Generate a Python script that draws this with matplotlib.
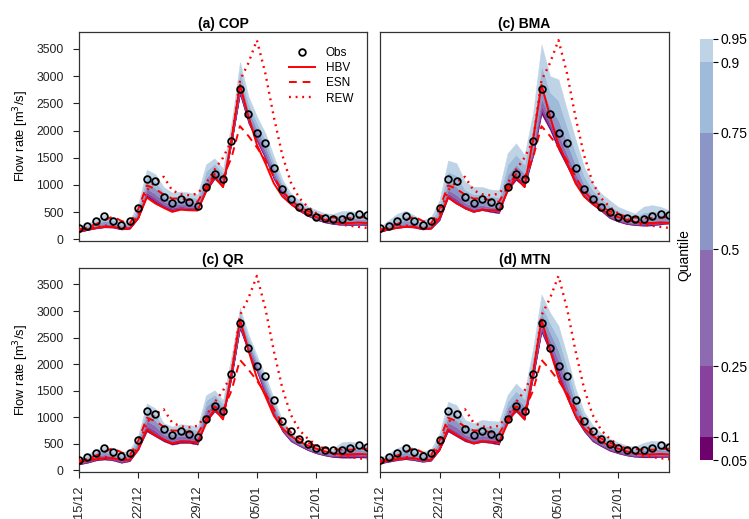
import matplotlib
matplotlib.use("Agg")
import matplotlib.pyplot as plt
from matplotlib.lines import Line2D

plt.rcParams['font.family'] = ['Liberation Sans', 'DejaVu Sans']

# ---------------- data ----------------
DAYS = list(range(35))                      # daily steps starting 15/12
XTICK_POS = [0, 7, 14, 21, 28]
XTICK_LABELS = ["15/12", "22/12", "29/12", "05/01", "12/01"]
YTICKS = [0, 500, 1000, 1500, 2000, 2500, 3000, 3500]

OBS = [200, 250, 330, 430, 340, 270, 330, 580, 1110, 1070, 780, 660, 745, 690, 620, 970, 1210, 1110,
       1810, 2770, 2300, 1960, 1770, 1320, 925, 740, 600, 500, 420, 390, 380, 380, 430, 470, 440]
HBV = [150, 185, 210, 230, 230, 195, 200, 390, 770, 660, 580, 505, 545, 535, 530, 880, 1150, 960,
       1830, 2840, 2260, 1740, 1400, 1030, 790, 650, 540, 470, 410, 360, 320, 300, 300, 310, 300]
ESN = [180, 220, 280, 350, 420, 340, 290, 560, 990, 930, 820, 750, 750, 720, 690, 960, 1200, 1130,
       1500, 2080, 1900, 1690, 1450, 1150, 890, 720, 600, 520, 460, 420, 400, 390, 390, 400, 410]
REW = [170, 200, 230, 250, 250, 220, 240, 450, 900, 1060, 1150, 900, 830, 810, 840, 1030, 1280, 1500,
       1810, 2920, 3240, 3660, 3050, 2250, 1550, 1050, 760, 600, 480, 380, 310, 270, 250, 230, 210]

QUANTILES = [0.05, 0.1, 0.25, 0.5, 0.75, 0.9, 0.95]
QUANTILE_LABELS = ["0.05", "0.1", "0.25", "0.5", "0.75", "0.9", "0.95"]
BAND_COLORS = ['#6e016b', '#88419d', '#8c6bb1', '#8c96c6', '#9ebcda', '#bfd3e6']

COP_Q05 = [135,170,200,220,215,180,195,390,790,680,590,530,560,545,540,880,1110,960,1750,2660,2130,1800,1480,1100,830,640,520,430,360,310,280,265,260,265,260]
COP_Q10 = [140,175,210,235,225,190,205,405,820,710,610,550,580,565,555,910,1135,980,1775,2695,2160,1830,1510,1125,845,655,530,440,370,320,290,280,275,280,275]
COP_Q25 = [150,190,225,255,245,200,220,430,865,760,645,580,610,590,585,955,1165,1010,1810,2750,2205,1870,1550,1165,870,670,550,455,385,335,310,305,300,300,290]
COP_Q50 = [165,205,250,290,270,220,245,470,935,835,700,630,655,640,625,1030,1225,1060,1870,2840,2280,1940,1620,1230,910,705,580,485,415,360,335,340,340,335,325]
COP_Q75 = [190,230,285,340,310,250,280,525,1035,940,775,695,720,700,685,1130,1300,1130,1950,2960,2380,2030,1715,1315,965,745,620,520,450,395,375,390,390,380,365]
COP_Q90 = [215,260,330,400,355,285,320,590,1160,1070,870,780,800,780,760,1255,1395,1215,2050,3110,2505,2145,1830,1420,1030,795,670,565,495,435,420,455,455,440,415]
COP_Q95 = [240,290,370,460,400,320,360,660,1280,1200,960,860,880,860,830,1380,1490,1300,2150,3260,2630,2260,1950,1530,1100,850,720,610,540,480,470,520,520,500,470]

BMA_Q05 = [135,178,210,225,215,180,195,350,760,655,560,505,535,505,480,900,1090,960,1520,2300,2010,1640,1335,1030,780,640,520,390,325,280,260,250,255,275,290]
BMA_Q10 = [140,187,223,240,227,189,206,369,795,692,585,528,557,526,501,934,1124,990,1560,2364,2060,1705,1387,1071,808,660,536,407,339,293,271,268,274,291,302]
BMA_Q25 = [146,199,241,262,243,200,221,394,843,744,620,560,587,554,531,982,1171,1031,1616,2454,2129,1796,1460,1127,847,687,559,430,358,311,286,292,300,314,319]
BMA_Q50 = [156,216,267,292,266,217,242,431,912,819,670,606,630,595,574,1050,1239,1090,1696,2582,2228,1926,1565,1208,902,726,592,463,386,336,307,327,338,347,344]
BMA_Q75 = [175,250,319,353,312,251,285,505,1050,968,770,698,716,677,659,1186,1374,1208,1856,2838,2426,2186,1774,1370,1013,804,657,529,441,387,350,397,413,412,393]
BMA_Q90 = [202,298,392,439,376,299,346,609,1243,1177,910,827,836,792,778,1376,1563,1373,2080,3196,2703,2550,2067,1597,1169,913,748,621,518,459,411,495,518,503,462]
BMA_Q95 = [230,350,470,530,445,350,410,720,1450,1400,1060,965,965,915,905,1580,1765,1550,2320,3580,3000,2940,2380,1840,1335,1030,845,720,600,535,475,600,630,600,535]

QR_Q05 = [112,143,187,205,187,143,174,392,733,640,547,485,516,516,485,920,1106,982,1728,2660,2225,1852,1417,1044,733,547,460,380,320,280,250,240,240,245,240]
QR_Q10 = [120,155,203,225,203,158,191,414,775,682,574,512,544,543,512,960,1138,1009,1763,2692,2252,1877,1447,1069,750,562,470,390,330,290,262,263,264,267,257]
QR_Q25 = [133,174,228,255,228,180,218,448,839,746,615,553,587,584,553,1019,1187,1050,1815,2741,2293,1914,1492,1106,777,584,484,404,346,304,281,298,301,299,283]
QR_Q50 = [152,202,265,300,265,214,257,498,934,841,677,615,651,646,615,1109,1260,1112,1893,2814,2355,1970,1559,1162,816,618,506,426,369,326,309,350,356,348,322]
QR_Q75 = [173,233,306,349,306,251,300,554,1040,947,745,683,721,714,683,1208,1340,1180,1980,2895,2423,2032,1633,1224,859,655,530,450,395,350,340,408,417,402,365]
QR_Q90 = [197,267,351,404,351,293,348,615,1156,1063,821,759,799,790,759,1318,1429,1256,2076,2984,2499,2101,1715,1293,907,696,556,476,424,376,374,472,484,461,412]
QR_Q95 = [218,298,392,454,392,330,392,671,1262,1169,889,827,870,858,827,1417,1510,1324,2163,3065,2567,2163,1790,1355,951,733,580,500,450,400,405,530,545,515,455]

MTN_Q05 = [130,160,190,210,190,160,180,380,733,640,547,503,535,516,485,951,1106,951,1728,2598,2225,1790,1355,982,733,547,454,370,320,280,255,245,245,250,250]
MTN_Q10 = [137,170,204,226,204,171,193,399,767,675,571,526,560,541,511,979,1138,983,1762,2641,2270,1846,1403,1016,755,566,469,384,333,291,267,262,264,267,265]
MTN_Q25 = [147,184,225,251,225,189,213,428,817,729,608,561,597,578,550,1021,1185,1030,1812,2705,2337,1930,1476,1066,789,594,491,405,352,309,284,286,292,294,288]
MTN_Q50 = [163,208,259,291,259,217,246,476,901,817,668,619,660,641,616,1091,1265,1110,1896,2813,2449,2070,1597,1150,845,640,528,439,383,337,314,328,340,337,325]
MTN_Q75 = [185,240,305,345,305,255,290,540,1013,936,749,696,743,724,703,1184,1371,1216,2008,2956,2598,2257,1759,1262,920,703,578,485,425,375,353,383,403,395,375]
MTN_Q90 = [211,278,360,410,360,301,343,617,1147,1077,846,789,843,824,807,1296,1497,1342,2142,3127,2777,2480,1953,1396,1009,777,638,540,475,421,399,449,478,465,435]
MTN_Q95 = [240,320,420,480,420,350,400,700,1293,1231,951,889,951,932,920,1417,1635,1480,2287,3313,2971,2723,2163,1542,1106,858,702,600,530,470,450,520,560,540,500]

PANELS = [
    ("(a) COP", [COP_Q05, COP_Q10, COP_Q25, COP_Q50, COP_Q75, COP_Q90, COP_Q95]),
    ("(c) BMA", [BMA_Q05, BMA_Q10, BMA_Q25, BMA_Q50, BMA_Q75, BMA_Q90, BMA_Q95]),
    ("(c) QR", [QR_Q05, QR_Q10, QR_Q25, QR_Q50, QR_Q75, QR_Q90, QR_Q95]),
    ("(d) MTN", [MTN_Q05, MTN_Q10, MTN_Q25, MTN_Q50, MTN_Q75, MTN_Q90, MTN_Q95]),
]

# ---------------- layout ----------------
W, H = 749, 519
def pos(x0, y0, x1, y1):
    return [x0 / W, 1 - y1 / H, (x1 - x0) / W, (y1 - y0) / H]

AX_BOXES = [(79, 32, 367, 241), (380, 32, 669, 241), (79, 268, 367, 472), (380, 268, 669, 472)]

DASH = (0, (4, 3))
DOT = (0, (0.8, 2.0))

fig = plt.figure(figsize=(7.49, 5.19), dpi=100)

for i, ((title, qs), box) in enumerate(zip(PANELS, AX_BOXES)):
    ax = fig.add_axes(pos(*box))
    for k in range(len(qs) - 1):
        ax.fill_between(DAYS, qs[k], qs[k + 1], facecolor=BAND_COLORS[k],
                        edgecolor=BAND_COLORS[k], linewidth=0.3, zorder=1)
    ax.plot(DAYS, HBV, color='#ff0000', lw=1.4, ls='-', zorder=3)
    ax.plot(DAYS, ESN, color='#ff0000', lw=1.4, ls=DASH, zorder=3)
    ax.plot(DAYS, REW, color='#ff0000', lw=1.7, ls=DOT, zorder=3)
    ax.plot(DAYS, OBS, ls='none', marker='o', ms=4.8, mfc='none', mec='black', mew=1.3, zorder=4)
    ax.set_xlim(0, 34)
    ax.set_ylim(-30, 3810)
    for s in ax.spines.values():
        s.set_color('#333333')
        s.set_linewidth(0.9)
    ax.set_title(title, fontsize=10, fontweight='bold', pad=3)
    if i in (0, 2):
        ax.set_yticks(YTICKS)
        ax.set_yticklabels([str(v) for v in YTICKS], fontsize=8.8)
        ax.tick_params(axis='y', length=4, width=0.8, pad=7, colors='#222222')
        ax.set_ylabel("Flow rate [m$^3$/s]", fontsize=9.3, labelpad=4)
    else:
        ax.set_yticks([])
    if i in (2, 3):
        ax.set_xticks(XTICK_POS)
        ax.set_xticklabels(XTICK_LABELS, rotation=90, fontsize=9.3, va='top')
        ax.tick_params(axis='x', length=4.5, width=0.8, pad=5, colors='#222222')
    else:
        ax.set_xticks([])
    if i == 0:
        handles = [
            Line2D([], [], ls='none', marker='o', ms=4.8, mfc='none', mec='black', mew=1.3),
            Line2D([], [], color='#ff0000', lw=1.4, ls='-'),
            Line2D([], [], color='#ff0000', lw=1.4, ls=DASH),
            Line2D([], [], color='#ff0000', lw=1.7, ls=DOT),
        ]
        ax.legend(handles, ['Obs', 'HBV', 'ESN', 'REW'], loc='upper right',
                  bbox_to_anchor=(0.985, 0.975), frameon=False, fontsize=8.5,
                  handlelength=2.2, handletextpad=0.9, labelspacing=0.28,
                  borderaxespad=0.4)

# ---------------- colour key ----------------
cax = fig.add_axes(pos(700, 39, 713, 460))
for k in range(len(QUANTILES) - 1):
    cax.axhspan(QUANTILES[k], QUANTILES[k + 1], color=BAND_COLORS[k], lw=0)
cax.set_ylim(QUANTILES[0], QUANTILES[-1])
cax.set_xlim(0, 1)
cax.set_xticks([])
cax.yaxis.tick_right()
cax.set_yticks(QUANTILES)
cax.set_yticklabels(QUANTILE_LABELS, fontsize=10)
cax.tick_params(axis='y', length=3.5, width=0.8, pad=2)
for s in cax.spines.values():
    s.set_visible(False)
fig.text(684 / W, 1 - 255 / H, "Quantile", rotation=90, ha='center', va='center', fontsize=10)

fig.savefig("out.png", dpi=100)
